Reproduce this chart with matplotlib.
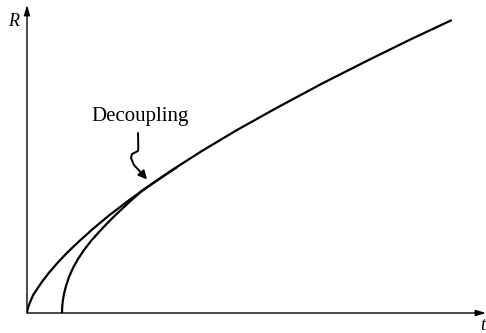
import matplotlib
matplotlib.use("Agg")
import matplotlib.pyplot as plt

# curve that starts at the origin (arbitrary units)
t_full = [0, 0.017, 0.05, 0.1, 0.2, 0.333, 0.5, 0.733, 1.0, 1.333, 1.733, 2.2,
          2.733, 3.333, 4.0, 4.833, 5.833, 7.0, 8.333, 9.833, 11.333, 12.833, 14.133]
R_full = [0, 0.107, 0.223, 0.353, 0.59, 0.793, 1.04, 1.343, 1.653, 2.007, 2.387, 2.807,
          3.25, 3.71, 4.193, 4.763, 5.403, 6.1, 6.843, 7.647, 8.407, 9.143, 9.753]

# curve that starts later and joins it after decoupling
t_late = [1.167, 1.173, 1.193, 1.233, 1.3, 1.4, 1.533, 1.7, 1.9, 2.133, 2.4,
          2.667, 2.933, 3.2, 3.5, 3.833, 4.333, 5.0]
R_late = [0, 0.2, 0.4, 0.633, 0.9, 1.2, 1.5, 1.8, 2.1, 2.4, 2.7,
          2.983, 3.25, 3.5, 3.783, 4.07, 4.417, 4.86]

# hand-drawn pointer under the label
ptr_t = [3.7, 3.71, 3.7, 3.5, 3.467, 3.567, 3.8]
ptr_R = [6.0, 5.5, 5.4, 5.3, 5.167, 4.933, 4.68]
ptr_tip = (4.0, 4.45)

W, H = 486, 333
fig = plt.figure(figsize=(W / 100, H / 100), dpi=100)
ax = fig.add_axes([27 / W, 20 / H, 459 / W, 308 / H])
ax.set_xlim(0, 15.3)
ax.set_ylim(0, 10.267)
ax.axis('off')

ax.plot(t_full, R_full, color='black', linewidth=1.6, solid_capstyle='round',
        solid_joinstyle='round')
ax.plot(t_late, R_late, color='black', linewidth=1.6, solid_capstyle='round',
        solid_joinstyle='round')

# axes with arrowheads
arrow = dict(arrowstyle='-|>,head_length=0.6,head_width=0.18', color='black',
             linewidth=1.0, shrinkA=0, shrinkB=0)
ax.annotate('', xy=(1, 0), xytext=(0, 0), xycoords='axes fraction',
            arrowprops=arrow, annotation_clip=False)
ax.annotate('', xy=(0, 1), xytext=(0, 0), xycoords='axes fraction',
            arrowprops=arrow, annotation_clip=False)

serif = ['Liberation Serif', 'DejaVu Serif']
fig.text(14 / W, 1 - 22 / H, 'R', family=serif, style='italic', fontsize=13,
         ha='center', va='center')
fig.text(483 / W, 1 - 326 / H, 't', family=serif, style='italic', fontsize=13,
         ha='center', va='center')

ax.text(3.767, 6.4, 'Decoupling', family=serif, fontsize=15,
        ha='center', va='baseline')
ax.plot(ptr_t, ptr_R, color='black', linewidth=1.4, solid_capstyle='round',
        solid_joinstyle='round')
ax.annotate('', xy=ptr_tip, xytext=(ptr_t[-1], ptr_R[-1]),
            arrowprops=dict(arrowstyle='-|>,head_length=0.5,head_width=0.25',
                            color='black', linewidth=1.4, shrinkA=0, shrinkB=0))

fig.savefig('out.png', dpi=100)
